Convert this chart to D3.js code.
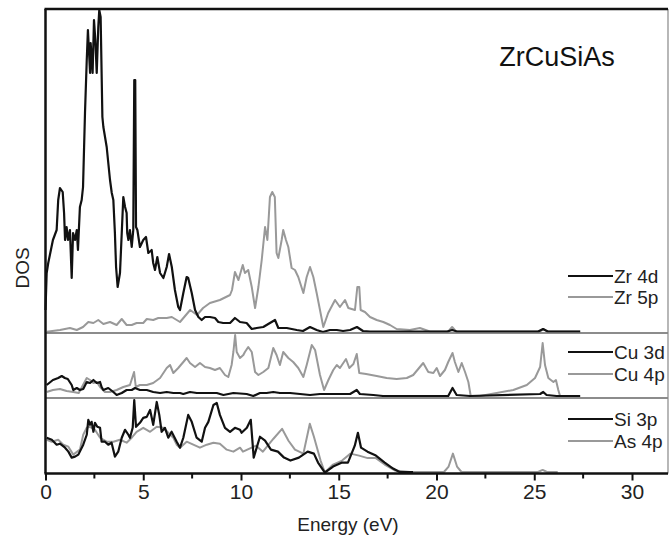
<!DOCTYPE html>
<html>
<head>
<meta charset="utf-8">
<script src="https://cdn.jsdelivr.net/npm/d3@7"></script>
<style>
  body { margin: 0; background: #fff; }
  text { font-family: "Liberation Sans", Arial, sans-serif; }
</style>
</head>
<body>
<div id="chart"></div>
<script>
const width = 670
const height = 544
const margin = { top: 9, right: 2, bottom: 70, left: 45.5 }

// energy (eV), DOS (arb. units)
const zr4d = [[0,23],[0.06,60],[0.14,70],[0.38,93],[0.57,103],[0.65,133],[0.74,145],[0.88,141],[0.95,120],[1.0,93],[1.08,106],[1.15,93],[1.25,103],[1.34,55],[1.41,100],[1.51,93],[1.6,103],[1.66,83],[1.76,126],[1.85,133],[1.92,146],[2.02,220],[2.11,273],[2.17,303],[2.28,260],[2.31,290],[2.41,260],[2.48,313],[2.55,293],[2.62,260],[2.7,306],[2.75,323],[2.82,316],[2.91,216],[2.96,206],[3.13,186],[3.3,153],[3.39,140],[3.47,133],[3.55,100],[3.61,66],[3.69,46],[3.81,60],[3.9,100],[3.98,136],[4.07,126],[4.15,120],[4.18,100],[4.24,93],[4.32,103],[4.41,86],[4.49,103],[4.54,253],[4.59,253],[4.63,106],[4.7,103],[4.83,86],[5.0,93],[5.14,96],[5.26,80],[5.43,83],[5.51,70],[5.6,63],[5.72,76],[5.86,60],[6.03,55],[6.2,66],[6.32,79],[6.46,66],[6.62,43],[6.79,26],[6.88,23],[7.05,40],[7.22,56],[7.3,55],[7.48,40],[7.65,23],[7.82,16],[7.99,13],[8.16,16],[8.41,16],[8.67,15],[8.84,11],[9.09,10],[9.44,10],[9.69,15],[9.95,11],[10.29,10],[10.55,4],[10.8,5],[11.14,6],[11.48,10],[11.74,13],[11.91,5],[12.34,5],[12.85,3],[13.17,2],[13.53,6],[13.87,3],[14.19,1],[14.55,3],[14.9,3],[15.22,2],[15.58,3],[15.93,6],[16.24,2],[16.6,1.5],[20.55,1.5],[20.8,3],[21.05,1.5],[25.2,1.5],[25.45,4],[25.7,1.5],[27.35,1.5]]
const zr5p = [[0.06,1.3],[0.74,3],[1.25,5],[1.6,3],[1.92,6],[2.19,11],[2.45,10],[2.7,13],[2.96,9],[3.3,11],[3.64,8],[3.9,14],[4.15,8],[4.41,8],[4.66,10],[5.0,10],[5.18,14],[5.51,13],[5.77,15],[6.2,15],[6.46,16],[6.88,11],[7.4,23],[7.75,18],[8.06,25],[8.41,30],[8.92,33],[9.44,38],[9.54,43],[9.69,61],[9.87,53],[10.09,68],[10.2,60],[10.37,63],[10.55,46],[10.72,25],[10.89,46],[11.06,73],[11.23,106],[11.35,93],[11.48,136],[11.6,141],[11.73,136],[11.82,80],[11.91,75],[12.08,93],[12.16,103],[12.3,93],[12.42,86],[12.59,65],[12.76,63],[12.93,56],[13.19,40],[13.36,56],[13.53,66],[13.7,56],[13.87,40],[14.21,6],[14.46,20],[14.81,33],[15.06,26],[15.32,33],[15.49,25],[15.83,23],[15.95,46],[16.05,46],[16.12,23],[16.34,21],[16.6,16],[16.94,13],[17.28,11],[17.62,8],[17.96,4],[18.64,3],[19.15,5],[19.66,1.5],[20.6,1.5],[20.8,6],[21.0,1.5],[25.3,1.5],[25.47,4],[25.65,1.5],[27.35,1.5]]
const cu3d = [[0.06,13],[0.38,18],[0.65,20],[0.83,22],[0.99,20],[1.14,19],[1.34,13],[1.42,8],[1.6,10],[1.76,8],[1.93,9],[2.11,16],[2.28,15],[2.45,18],[2.62,15],[2.79,16],[2.87,11],[2.96,8],[3.21,10],[3.47,6],[3.64,3],[3.9,5],[4.15,8],[4.41,8],[4.58,10],[4.83,8],[5.18,8],[5.51,6],[5.86,5],[6.2,6],[6.54,5],[6.88,5],[7.05,4],[7.39,6],[7.74,5],[8.25,5],[8.76,5],[9.1,3],[9.61,5],[10.29,4],[10.63,2],[10.97,5],[11.31,5],[11.65,6],[11.99,5],[12.51,5],[13.02,4],[13.53,3],[14.04,4],[14.72,4],[15.58,4],[15.92,8],[16.08,4],[16.77,3],[17.26,2],[20.6,2],[20.82,10],[21.03,3],[21.71,2],[25.3,4],[25.46,6],[25.63,3],[26.14,2],[27.35,2]]
const cu4p = [[0.06,6],[0.38,8],[0.74,9],[1.08,7],[1.42,6],[1.7,5],[2.11,20],[2.28,18],[2.45,15],[2.62,16],[2.79,11],[3.04,6],[3.3,6],[3.64,8],[3.98,11],[4.32,13],[4.53,26],[4.62,11],[4.83,13],[5.18,13],[5.51,15],[5.86,20],[6.2,30],[6.37,33],[6.54,25],[6.79,30],[7.05,36],[7.22,40],[7.39,35],[7.65,31],[7.9,35],[8.16,31],[8.41,30],[8.67,28],[8.92,30],[9.18,23],[9.35,21],[9.52,33],[9.61,46],[9.7,63],[9.78,46],[9.95,40],[10.12,43],[10.2,46],[10.37,51],[10.55,46],[10.72,26],[10.89,23],[11.14,26],[11.4,30],[11.65,50],[11.82,43],[11.99,33],[12.16,46],[12.42,40],[12.67,36],[12.93,30],[13.19,21],[13.36,33],[13.62,53],[13.79,48],[14.04,23],[14.25,8],[14.47,18],[14.72,28],[14.9,33],[15.06,30],[15.37,39],[15.54,30],[15.75,34],[15.92,44],[16.05,25],[16.4,24],[16.94,22],[17.45,20],[17.96,19],[18.48,20],[18.81,23],[19.15,31],[19.32,35],[19.58,26],[19.84,25],[20.01,30],[20.18,22],[20.43,28],[20.6,36],[20.82,45],[20.94,36],[21.12,26],[21.29,35],[21.46,26],[21.63,16],[21.75,2],[22.23,2],[23.08,5],[23.93,8],[24.62,13],[25.04,20],[25.3,31],[25.43,55],[25.55,33],[25.72,20],[25.98,16],[26.11,18],[26.23,8],[26.32,2]]
const si3p = [[0.06,36],[0.32,34],[0.57,29],[0.74,30],[1.0,26],[1.17,22],[1.34,16],[1.51,17],[1.68,19],[1.93,29],[2.11,39],[2.19,54],[2.28,49],[2.36,52],[2.45,42],[2.53,51],[2.65,47],[2.79,46],[2.87,32],[3.04,32],[3.21,29],[3.38,31],[3.55,17],[3.72,22],[3.9,36],[4.07,44],[4.24,39],[4.32,36],[4.46,46],[4.54,74],[4.63,47],[4.83,51],[5.0,56],[5.18,57],[5.35,64],[5.51,49],[5.69,72],[5.82,59],[5.94,42],[6.11,46],[6.28,36],[6.45,42],[6.71,32],[6.88,26],[7.05,36],[7.3,59],[7.48,52],[7.73,36],[7.99,32],[8.16,46],[8.33,52],[8.59,69],[8.76,71],[8.92,59],[9.18,46],[9.44,42],[9.69,46],[9.95,44],[10.03,41],[10.3,46],[10.5,54],[10.65,16],[10.97,37],[11.23,33],[11.53,24],[11.89,22],[12.2,16],[12.53,13],[12.96,16],[13.41,22],[13.73,20],[13.94,11],[14.29,1],[14.71,7],[15.17,11],[15.47,11],[15.82,28],[15.98,41],[16.14,26],[16.47,22],[16.9,18],[17.35,11],[17.78,5],[18.11,1.5],[18.8,1.5]]
const as4p = [[0.06,34],[0.32,32],[0.65,34],[0.91,29],[1.17,27],[1.42,19],[1.76,24],[1.93,39],[2.11,46],[2.28,47],[2.53,44],[2.79,36],[3.13,32],[3.47,32],[3.81,34],[4.15,31],[4.41,36],[4.66,42],[5.0,46],[5.35,42],[5.69,47],[6.03,46],[6.28,41],[6.54,36],[6.71,29],[6.88,26],[7.22,32],[7.56,29],[7.9,26],[8.25,29],[8.59,31],[8.92,30],[9.27,24],[9.61,22],[9.95,26],[10.1,22],[10.77,28],[11.12,22],[11.66,35],[12.1,45],[12.43,33],[12.76,24],[13.19,20],[13.52,50],[13.73,37],[14.07,13],[14.29,1],[14.71,9],[15.17,13],[15.6,20],[16.04,18],[16.48,15.5],[16.9,15.5],[17.35,9],[17.89,3],[18.65,1.5],[20.38,1.5],[20.62,7],[20.84,20],[21.05,7],[21.28,1.5],[25.19,1.5],[25.43,3.6],[25.65,1.5],[26.2,1.5]]

const xMajor = [0, 5, 10, 15, 20, 25, 30]
const xMinor = [2.5, 7.5, 12.5, 17.5, 22.5, 27.5]
const panelMax = [324, 65, 76]
const legendNames = [["Zr 4d", "Zr 5p"], ["Cu 3d", "Cu 4p"], ["Si 3p", "As 4p"]]

const svg = d3.select("#chart").append("svg").attr("width", width).attr("height", height)

const x = d3.scaleLinear().domain([0, 32]).range([margin.left, margin.left + 32 * 19.55])
// panel split lines in pixels (top, divider, divider, bottom)
const splits = [margin.top, 333, 398, height - margin.bottom - 0.5]

const black = "#111"
const grey = "#999"

const panels = [
    { series: [zr5p, zr4d], names: legendNames[0], legY: [276, 297] },
    { series: [cu4p, cu3d], names: legendNames[1], legY: [352, 374] },
    { series: [as4p, si3p], names: legendNames[2], legY: [419, 441] }
]

panels.forEach((p, i) => {
    const y = d3.scaleLinear().domain([0, panelMax[i]]).range([splits[i + 1], splits[i]])
    const line = d3.line().x(d => x(d[0])).y(d => y(d[1]))
    const g = svg.append("g")
    g.selectAll("path").data(p.series).join("path")
        .attr("d", line)
        .attr("fill", "none")
        .attr("stroke", (d, j) => j === 0 ? grey : black)
        .attr("stroke-width", (d, j) => j === 0 ? 2 : 2.2)
        .attr("stroke-linejoin", "round")
    // legend
    const lg = svg.append("g")
    p.names.forEach((n, j) => {
        lg.append("line")
            .attr("x1", 568).attr("x2", 613)
            .attr("y1", p.legY[j]).attr("y2", p.legY[j])
            .attr("stroke", j === 0 ? black : grey)
            .attr("stroke-width", 2)
        lg.append("text")
            .attr("x", 614).attr("y", p.legY[j])
            .attr("dominant-baseline", "central")
            .attr("font-size", 19)
            .attr("fill", "#222")
            .text(n)
    })
})

// panel dividers
svg.selectAll(".divider").data([splits[1], splits[2]]).join("line")
    .attr("class", "divider")
    .attr("x1", margin.left).attr("x2", width - margin.right)
    .attr("y1", d => d).attr("y2", d => d)
    .attr("stroke", "#666").attr("stroke-width", 1.5)

// frame
svg.append("line").attr("x1", width - margin.right).attr("x2", width - margin.right)
    .attr("y1", margin.top).attr("y2", splits[3])
    .attr("stroke", "#888").attr("stroke-width", 1.2)
svg.append("line").attr("x1", margin.left - 1).attr("x2", width - margin.right)
    .attr("y1", margin.top).attr("y2", margin.top)
    .attr("stroke", black).attr("stroke-width", 2.5)
svg.append("line").attr("x1", margin.left).attr("x2", margin.left)
    .attr("y1", margin.top).attr("y2", splits[3])
    .attr("stroke", black).attr("stroke-width", 2.5)

// x axis
const xAxis = svg.append("g").attr("transform", `translate(0,${splits[3]})`)
    .call(d3.axisBottom(x).tickValues(xMajor).tickSize(7).tickSizeOuter(0).tickPadding(4))
xAxis.select(".domain").remove()
xAxis.selectAll(".tick line").attr("stroke", black).attr("stroke-width", 2)
xAxis.selectAll(".tick text")
    .attr("font-size", 21).attr("fill", "#222")
    .attr("font-family", "'Liberation Sans', Arial, sans-serif")
xAxis.append("line").attr("x1", margin.left - 1).attr("x2", width - margin.right)
    .attr("stroke", black).attr("stroke-width", 2.5)
xAxis.selectAll(".minor").data(xMinor).join("line")
    .attr("class", "minor")
    .attr("x1", d => x(d)).attr("x2", d => x(d))
    .attr("y1", 0).attr("y2", 5)
    .attr("stroke", black).attr("stroke-width", 2)

// titles
svg.append("text")
    .attr("x", 557).attr("y", 57)
    .attr("text-anchor", "middle").attr("dominant-baseline", "central")
    .attr("font-size", 27).attr("fill", "#111")
    .text("ZrCuSiAs")
svg.append("text")
    .attr("x", 348).attr("y", 524)
    .attr("text-anchor", "middle").attr("dominant-baseline", "central")
    .attr("font-size", 19).attr("fill", "#222")
    .text("Energy (eV)")
svg.append("text")
    .attr("transform", "translate(22,268) rotate(-90)")
    .attr("text-anchor", "middle").attr("dominant-baseline", "central")
    .attr("font-size", 19).attr("fill", "#222")
    .text("DOS")
</script>
</body>
</html>
